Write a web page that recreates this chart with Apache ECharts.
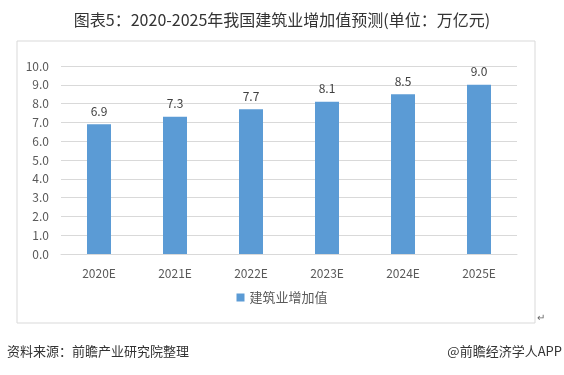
<!DOCTYPE html>
<html><head><meta charset="utf-8">
<script src="https://cdn.jsdelivr.net/npm/echarts@6/dist/echarts.min.js"></script>
<style>html,body{margin:0;padding:0;background:#fff}#c{width:564px;height:375px}</style>
</head><body><div id="c"></div>
<script>
const categories = ['2020E','2021E','2022E','2023E','2024E','2025E'];
const values = [6.9, 7.3, 7.7, 8.1, 8.5, 9.0];
const seriesName = '建筑业增加值';
const titleText = '图表5：2020-2025年我国建筑业增加值预测(单位：万亿元)';
const sourceText = '资料来源：前瞻产业研究院整理';
const brandText = '@前瞻经济学人APP';

const font = '"Noto Sans CJK SC", "Microsoft YaHei", sans-serif';
const chart = echarts.init(document.getElementById('c'), null, {renderer:'canvas'});
chart.setOption({
  animation:false,
  textStyle:{fontFamily:font},
  title:{text:titleText,left:'center',top:7,textStyle:{fontSize:16,fontWeight:'normal',color:'#333',fontFamily:font}},
  graphic:[
    {type:'rect',shape:{x:17,y:41,width:518,height:282},style:{fill:'none',stroke:'#d9d9d9',lineWidth:1},z:-1},
    {type:'text',left:7,top:345,style:{text:sourceText,fontSize:13,fill:'#333',fontFamily:font}},
    {type:'text',right:2,top:345,style:{text:brandText,fontSize:13,fill:'#333',fontFamily:font}},
    {type:'text',left:537,top:313,style:{text:'↵',fontSize:10,fill:'#666'}}
  ],
  legend:{data:[seriesName],bottom:66,left:'center',itemWidth:8,itemHeight:8,icon:'rect',itemGap:10,
    textStyle:{fontSize:13,color:'#595959',fontFamily:font}},
  grid:{left:61,right:47,top:66,bottom:121,containLabel:false},
  xAxis:{type:'category',data:categories,
    axisLine:{lineStyle:{color:'#d9d9d9'}},axisTick:{show:false},
    axisLabel:{color:'#595959',fontSize:12,margin:13,fontFamily:font}},
  yAxis:{type:'value',min:0,max:10,interval:1,
    axisLine:{show:false},axisTick:{show:false},
    splitLine:{lineStyle:{color:'#d9d9d9'}},
    axisLabel:{color:'#595959',fontSize:12,margin:12,formatter:v=>v.toFixed(1),fontFamily:font}},
  series:[{name:seriesName,type:'bar',data:values,barWidth:24,
    itemStyle:{color:'#5b9bd5'},
    label:{show:true,position:'top',distance:7,color:'#404040',fontSize:12,formatter:p=>p.value.toFixed(1)}}]
});
</script></body></html>
